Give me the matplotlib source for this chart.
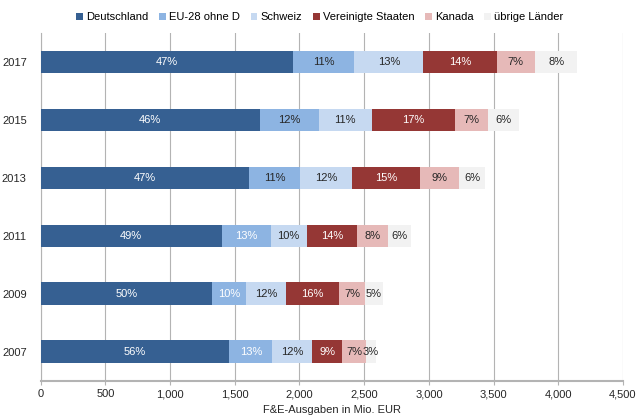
"""F&E-Ausgaben nach Herkunft, gestapelte Balken."""

import matplotlib.pyplot as plt
import numpy as np

plt.rcParams["font.family"] = ["Liberation Sans", "DejaVu Sans"]

years = ["2007", "2009", "2011", "2013", "2015", "2017"]
series_names = ["Deutschland", "EU-28 ohne D", "Schweiz",
                "Vereinigte Staaten", "Kanada", "übrige Länder"]

# Mio. EUR (bottom to top)
deutschland = [1459, 1324, 1399, 1612, 1694, 1951]
eu28 = [332, 263, 377, 393, 455, 471]
schweiz = [308, 308, 279, 401, 410, 536]
usa = [229, 414, 392, 527, 640, 565]
kanada = [185, 194, 236, 298, 260, 298]
uebrige = [78, 142, 175, 204, 239, 326]

colors = ["#366092", "#8db4e2", "#c6d9f1", "#953735", "#e6b9b8", "#f2f2f2"]
# label colour per series and year (some EU labels are white)
dark = "#262626"
label_colors = [
    ["white"] * 6,
    ["white", "white", "white", dark, dark, dark],
    [dark] * 6,
    ["white"] * 6,
    [dark] * 6,
    [dark] * 6,
]

data = np.array([deutschland, eu28, schweiz, usa, kanada, uebrige], dtype=float)
totals = data.sum(axis=0)

fig = plt.figure(figsize=(6.37, 4.16), dpi=100)
ax = fig.add_axes([40.7 / 637, 35.3 / 416, 582.3 / 637, 347.7 / 416])

y = np.arange(len(years))
left = np.zeros(len(years))
for i, name in enumerate(series_names):
    ax.barh(y, data[i], left=left, height=0.39, color=colors[i],
            label=name, zorder=3)
    for j in range(len(years)):
        pct = data[i, j] / totals[j] * 100
        ax.text(left[j] + data[i, j] / 2, y[j], f"{pct:.0f}%",
                ha="center", va="center", fontsize=8,
                color=label_colors[i][j], zorder=4)
    left += data[i]

ax.set_xlim(0, 4500)
ax.set_ylim(-0.5, 5.5)
ax.set_xticks(np.arange(0, 4501, 500))
ax.set_xticklabels([f"{v:,}" for v in range(0, 4501, 500)])
ax.set_yticks(y)
ax.set_yticklabels(years)
ax.tick_params(axis="both", labelsize=8, colors=dark)
ax.tick_params(axis="x", length=3, color="#b3b3b3", pad=3)
ax.tick_params(axis="y", length=0, pad=10)
ax.grid(axis="x", color="#b3b3b3", linewidth=0.8, zorder=0)
for side in ["top", "right"]:
    ax.spines[side].set_visible(False)
for side in ["left", "bottom"]:
    ax.spines[side].set_color("#b3b3b3")
ax.spines["bottom"].set_linewidth(1.5)
ax.set_xlabel("F&E-Ausgaben in Mio. EUR", fontsize=8, color=dark,
              labelpad=4)

handles, labels = ax.get_legend_handles_labels()
fig.legend(handles, labels, loc="center", bbox_to_anchor=(320 / 637, 1 - 17 / 416),
           ncol=6, frameon=False, fontsize=8, handlelength=0.6,
           handleheight=0.6, handletextpad=0.3, columnspacing=0.95)

fig.savefig("out.png", dpi=100)
